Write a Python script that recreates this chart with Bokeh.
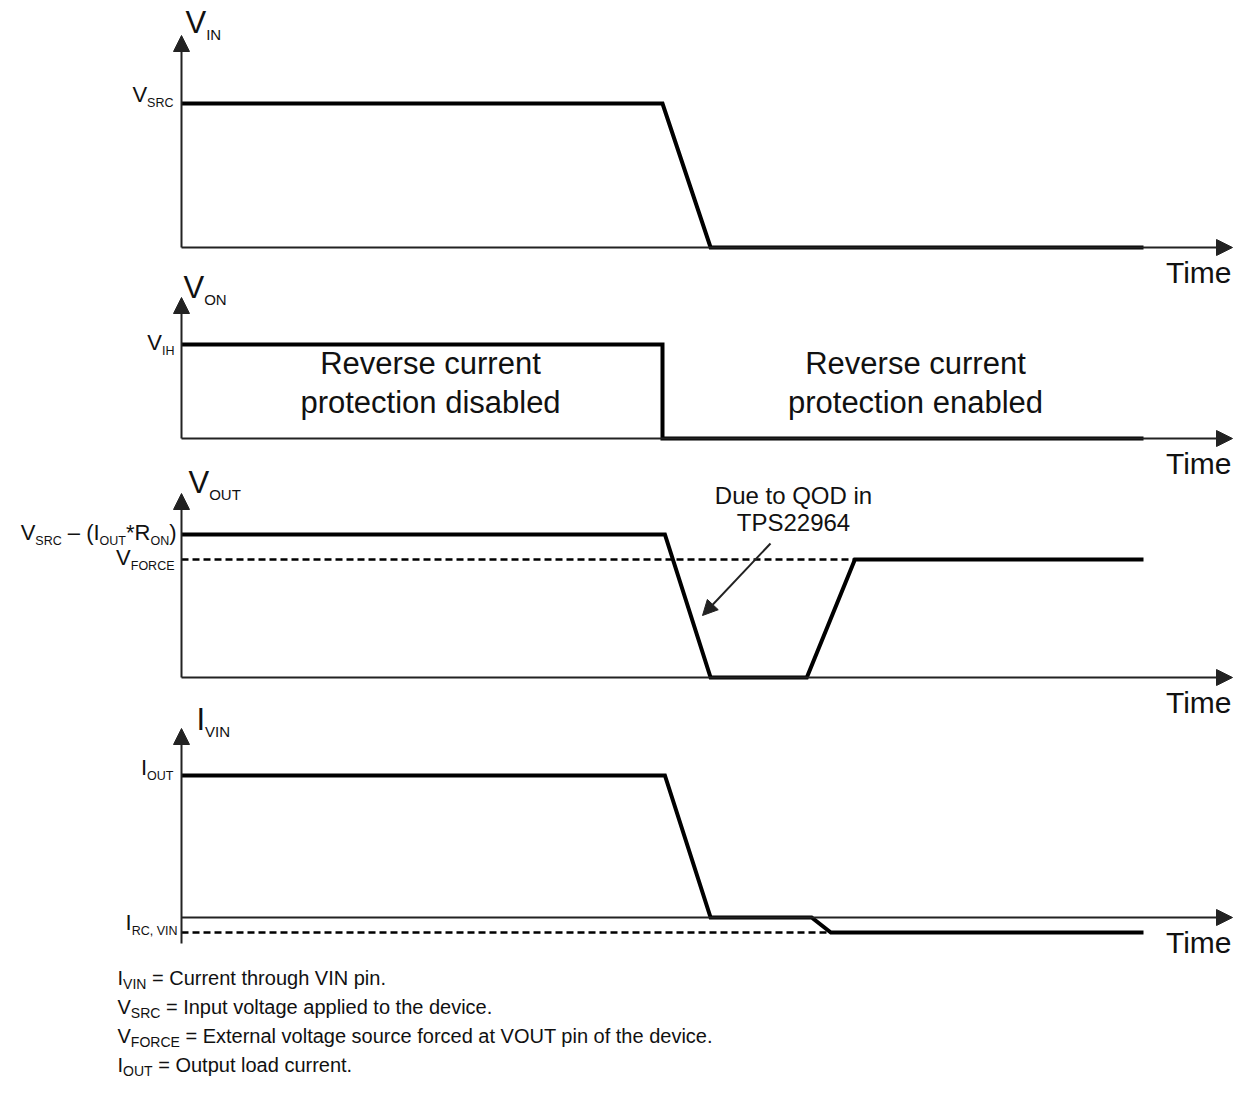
from bokeh.plotting import figure
from bokeh.models import Range1d, Arrow, NormalHead
from bokeh.core.properties import value
from bokeh.embed import file_html
from bokeh.resources import INLINE

# ---------------- data (time in arbitrary units, levels normalised) ----------------
vin_t = [0, 10, 11, 20]
vin_v = [1, 1, 0, 0]
von_t = [0, 10, 10, 20]
von_v = [1, 1, 0, 0]
vout_t = [0, 10.05, 11, 13, 14, 20]
vout_v = [1, 1, 0, 0, 0.825, 0.825]
vforce_t = [0, 14]
vforce_v = [0.825, 0.825]
ivin_t = [0, 10.05, 11, 13.1, 13.5, 20]
ivin_v = [1, 1, 0, 0, -0.106, -0.106]
irc_t = [0, 13.5]
irc_v = [-0.106, -0.106]

panel_names = [[("V", "m"), ("IN", "s")], [("V", "m"), ("ON", "s")],
               [("V", "m"), ("OUT", "s")], [("I", "m"), ("VIN", "s")]]
level_labels = [
    [("V", "m"), ("SRC", "s")],
    [("V", "m"), ("IH", "s")],
    [("V", "m"), ("SRC", "s"), (" – (I", "m"), ("OUT", "s"), ("*R", "m"), ("ON", "s"), (")", "m")],
    [("I", "m"), ("OUT", "s")],
]
force_label = [("V", "m"), ("FORCE", "s")]
irc_label = [("I", "m"), ("RC, VIN", "s")]
region_text_disabled = ["Reverse current", "protection disabled"]
region_text_enabled = ["Reverse current", "protection enabled"]
callout_text = ["Due to QOD in", "TPS22964"]
footnotes = [
    [("I", "m"), ("VIN", "s"), (" = Current through VIN pin.", "m")],
    [("V", "m"), ("SRC", "s"), (" = Input voltage applied to the device.", "m")],
    [("V", "m"), ("FORCE", "s"), (" = External voltage source forced at VOUT pin of the device.", "m")],
    [("I", "m"), ("OUT", "s"), (" = Output load current.", "m")],
]

# ---------------- layout ----------------
W, H = 1235, 1081
X0_PX, PX_PER_T = 181.0, 48.1
AXIS_END_PX = 1232
bases = [247, 438, 677, 917]
highs = [103, 344, 534, 775]
tips = [35, 297, 493, 728]
FONT = value("Liberation Sans")
AX = "#222222"
TXT = "#111111"
BASE_SHIFT = 0.35   # svg text anchor correction (fraction of font size)

def px2t(px):
    return (px - X0_PX) / PX_PER_T

def ylev(i, v):
    return [bases[i] - vv * (bases[i] - highs[i]) for vv in v]

p = figure(width=W, height=H, x_range=Range1d(px2t(0), px2t(W)),
           y_range=Range1d(H, 0), output_backend="svg", toolbar_location=None,
           min_border=0)
p.axis.visible = False
p.grid.visible = False
p.outline_line_color = None
p.background_fill_color = "white"

CW = {' ': 278, '(': 333, ')': 333, '*': 389, ',': 278, '–': 556, '=': 584, '.': 278,
      'A': 667, 'B': 667, 'C': 722, 'D': 722, 'E': 667, 'F': 611, 'G': 778, 'H': 722,
      'I': 278, 'J': 500, 'K': 667, 'L': 556, 'M': 833, 'N': 722, 'O': 778, 'P': 667,
      'Q': 778, 'R': 722, 'S': 667, 'T': 611, 'U': 722, 'V': 667, 'W': 944, 'X': 667,
      'Y': 667, 'Z': 611, 'a': 556, 'b': 556, 'c': 500, 'd': 556, 'e': 556, 'f': 278,
      'g': 556, 'h': 556, 'i': 222, 'j': 222, 'k': 500, 'l': 222, 'm': 833, 'n': 556,
      'o': 556, 'p': 556, 'q': 556, 'r': 333, 's': 500, 't': 278, 'u': 556, 'v': 500,
      'w': 722, 'x': 500, 'y': 500, 'z': 500}

def tw(s, size):
    return sum(CW.get(c, 556) for c in s) * size / 1000.0

def txt(x_px, base_px, s, size, align="left"):
    p.text(x=[px2t(x_px)], y=[base_px - BASE_SHIFT * size], text=[s],
           text_font=FONT, text_font_size=f"{size}px", text_color=TXT,
           text_align=align, text_baseline="alphabetic")

def rich(x_px, y_px, parts, align="left", main=22, sub=12.5, dy=5):
    sizes = [main if k == "m" else sub for _, k in parts]
    total = sum(tw(s, sz) for (s, _), sz in zip(parts, sizes))
    cur = x_px if align == "left" else (x_px - total if align == "right" else x_px - total / 2)
    for (s, k), sz in zip(parts, sizes):
        lead = len(s) - len(s.lstrip(" "))
        cur += tw(" " * lead, sz)
        txt(cur, y_px + (dy if k == "s" else 0), s.strip(" "), sz)
        cur += tw(s.lstrip(" "), sz)

def arrow(x0, y0, x1, y1, size=16, lw=2):
    p.add_layout(Arrow(end=NormalHead(size=size, fill_color=AX, line_color=AX, line_width=1),
                       x_start=x0, y_start=y0, x_end=x1, y_end=y1,
                       line_color=AX, line_width=lw))

# axes
for i in range(4):
    arrow(0, bases[i], px2t(AXIS_END_PX), bases[i])
    arrow(0, bases[i] if i < 3 else 943, 0, tips[i])
    txt(1231, bases[i] + 35, "Time", 30, align="right")

# dashed reference levels
p.line(vforce_t, ylev(2, vforce_v), line_color="black", line_width=2.5, line_dash="7 4")
p.line(irc_t, ylev(3, irc_v), line_color="black", line_width=2.5, line_dash="7 4")

# waveforms
for i, (t, v) in enumerate([(vin_t, vin_v), (von_t, von_v), (vout_t, vout_v), (ivin_t, ivin_v)]):
    p.line(t, ylev(i, v), line_color="black", line_width=4, line_join="miter")

# panel names
name_pos = [(185, 33), (183, 298), (188, 493), (196, 730)]
for (x, y), parts in zip(name_pos, panel_names):
    rich(x, y, parts, main=31, sub=15, dy=6)

# level labels
lvl_pos = [(173, 102), (174, 350), (176, 540), (173, 775)]
for (x, y), parts in zip(lvl_pos, level_labels):
    rich(x, y, parts, align="right")
rich(174, 565, force_label, align="right")
rich(177, 930, irc_label, align="right")

# region texts
for cx, lines in [(430, region_text_disabled), (915, region_text_enabled)]:
    for j, s in enumerate(lines):
        txt(cx, 374 + j * 39, s, 31, align="center")

# callout
for j, s in enumerate(callout_text):
    txt(793, 503 + j * 27, s, 24, align="center")
arrow(px2t(770), 543, px2t(702), 615, size=15, lw=2)

# footnotes
for j, parts in enumerate(footnotes):
    rich(117, 984 + j * 29, parts, main=20, sub=14, dy=4)

open("out.html", "w").write(file_html(p, INLINE))
